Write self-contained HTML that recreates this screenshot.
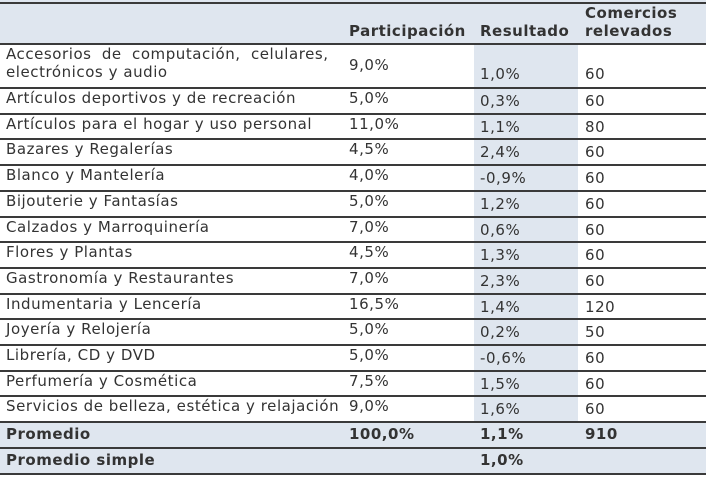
<!DOCTYPE html>
<html><head><meta charset="utf-8"><style>
body{margin:0;width:706px;height:479px;background:#fff;position:relative;overflow:hidden;font-family:"DejaVu Sans","Liberation Sans",sans-serif;font-size:15px;letter-spacing:0.55px;color:#333;}
.a{position:absolute;white-space:nowrap}
.ln{position:absolute;left:0;width:706px;height:2px;background:#3a3a3a}
.b{font-weight:bold;letter-spacing:0.5px}
</style></head><body>
<div class="a" style="left:0;top:0;width:706px;height:44px;background:#dfe6ef"></div>
<div class="a" style="left:474px;top:44px;width:104px;height:378px;background:#dfe6ef"></div>
<div class="a" style="left:0;top:422px;width:706px;height:52px;background:#dfe6ef"></div>
<div class="ln" style="top:2px"></div>
<div class="ln" style="top:43px"></div>
<div class="a b" style="left:349px;top:22px">Participación</div>
<div class="a b" style="left:480px;top:22px">Resultado</div>
<div class="a b" style="left:585px;top:4px">Comercios</div>
<div class="a b" style="left:585px;top:22px">relevados</div>
<div class="a" style="left:6px;top:45px;word-spacing:5px">Accesorios de computación, celulares,</div>
<div class="a" style="left:6px;top:63px">electrónicos y audio</div>
<div class="a" style="left:349px;top:56px">9,0%</div>
<div class="a" style="left:480px;top:65px">1,0%</div>
<div class="a" style="left:585px;top:65px">60</div>
<div class="ln" style="top:87px"></div>
<div id="rows"></div>
<script>
var d=[["Artículos deportivos y de recreación","5,0%","0,3%","60"],["Artículos para el hogar y uso personal","11,0%","1,1%","80"],["Bazares y Regalerías","4,5%","2,4%","60"],["Blanco y Mantelería","4,0%","-0,9%","60"],["Bijouterie y Fantasías","5,0%","1,2%","60"],["Calzados y Marroquinería","7,0%","0,6%","60"],["Flores y Plantas","4,5%","1,3%","60"],["Gastronomía y Restaurantes","7,0%","2,3%","60"],["Indumentaria y Lencería","16,5%","1,4%","120"],["Joyería y Relojería","5,0%","0,2%","50"],["Librería, CD y DVD","5,0%","-0,6%","60"],["Perfumería y Cosmética","7,5%","1,5%","60"],["Servicios de belleza, estética y relajación","9,0%","1,6%","60"]];
var h="";
d.forEach(function(r,i){var t=88+i*25.7;
h+='<div class="a" style="left:6px;top:'+(t+1)+'px">'+r[0]+'</div><div class="a" style="left:349px;top:'+(t+1)+'px">'+r[1]+'</div><div class="a" style="left:480px;top:'+(t+4)+'px">'+r[2]+'</div><div class="a" style="left:585px;top:'+(t+4)+'px">'+r[3]+'</div><div class="ln" style="top:'+(t+24.7)+'px"></div>';});
document.getElementById('rows').outerHTML=h;
</script>
<div class="a b" style="left:6px;top:425px">Promedio</div>
<div class="a b" style="left:349px;top:425px">100,0%</div>
<div class="a b" style="left:480px;top:425px">1,1%</div>
<div class="a b" style="left:585px;top:425px">910</div>
<div class="ln" style="top:447px"></div>
<div class="a b" style="left:6px;top:451px">Promedio simple</div>
<div class="a b" style="left:480px;top:451px">1,0%</div>
<div class="ln" style="top:473px"></div>
</body></html>
